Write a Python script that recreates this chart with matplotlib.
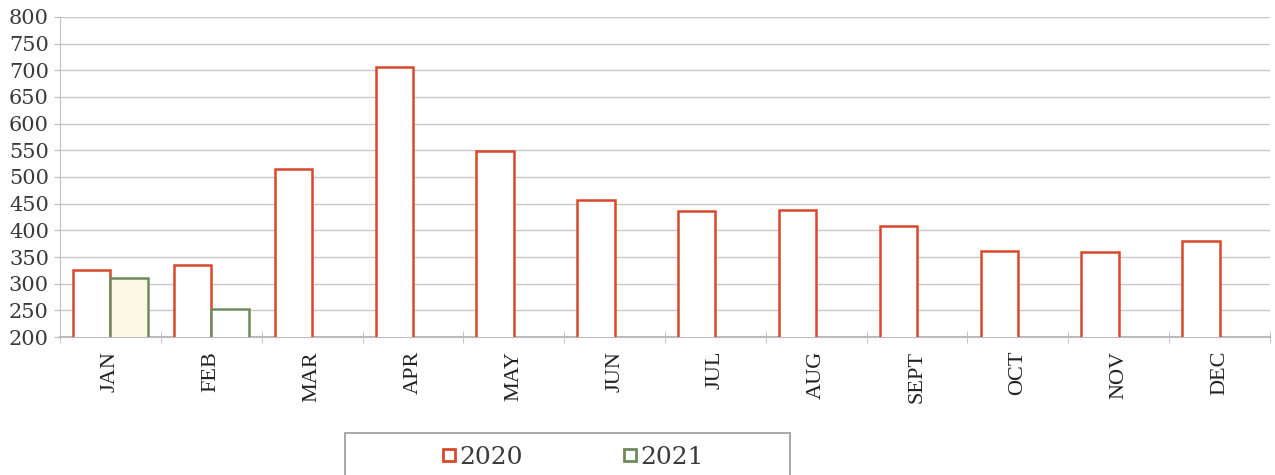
import matplotlib
matplotlib.use("Agg")
import matplotlib.pyplot as plt
from matplotlib.lines import Line2D
from matplotlib.patches import Rectangle
import numpy as np

months = ["JAN", "FEB", "MAR", "APR", "MAY", "JUN", "JUL", "AUG", "SEPT", "OCT", "NOV", "DEC"]
vals_2020 = [325, 335, 515, 707, 549, 457, 436, 438, 408, 361, 359, 380]
vals_2021 = [310, 252]
fill_2021 = ["#fbf7e4", "#ffffff"]
y_ticks = list(range(200, 801, 50))

c2020 = "#d9482b"
c2021 = "#6e8a5c"

fig = plt.figure(figsize=(12.75, 4.75), dpi=100)
ax = fig.add_axes([60/1275, 1-337/475, 1210/1275, 320/475])

x = np.arange(len(months))
w = 0.37
ax.bar(x - w/2, vals_2020, width=w, bottom=0, facecolor="white", edgecolor=c2020, linewidth=1.8, zorder=3)
x21 = np.arange(len(vals_2021))
ax.bar(x21 + w/2, vals_2021, width=w, bottom=0, color=fill_2021, edgecolor=c2021, linewidth=1.8, zorder=3)

ax.set_ylim(200, 800)
ax.set_xlim(-0.5, len(months) - 0.5)
ax.set_yticks(y_ticks)
ax.set_yticklabels([str(v) for v in y_ticks], fontsize=15, family="DejaVu Serif", color="#3a3a3a")
ax.set_xticks(x)
ax.set_xticklabels(months, rotation=90, fontsize=16, family="Liberation Serif", color="#222222")
ax.tick_params(axis="x", length=0, pad=10)
ax.set_xticks(np.arange(-0.5, len(months)), minor=True)
ax.tick_params(axis="x", which="minor", length=8, color="#bbbbbb", direction="inout")
ax.tick_params(axis="y", length=4, color="#bbbbbb", pad=4)
ax.grid(axis="y", color="#c8c8c8", linewidth=1.0, zorder=0)
for s in ["top", "right"]:
    ax.spines[s].set_visible(False)
ax.spines["left"].set_color("#c0c0c0")
ax.spines["bottom"].set_color("#bbbbbb")
ax.spines["bottom"].set_linewidth(1.5)

# legend frame (extends past the bottom of the figure, as in the reference)
fig.patches.append(Rectangle((345/1275, -0.05), 445/1275, 0.05 + 1 - 433/475,
                             transform=fig.transFigure, facecolor="white",
                             edgecolor="#999999", linewidth=1.2, zorder=0))

handles = [
    Line2D([], [], marker="s", linestyle="none", markersize=9, markerfacecolor="white",
           markeredgecolor=c2020, markeredgewidth=2),
    Line2D([], [], marker="s", linestyle="none", markersize=9, markerfacecolor="white",
           markeredgecolor=c2021, markeredgewidth=2),
]
leg = fig.legend(handles, ["2020", "2021"], loc="center", ncol=2,
                 bbox_to_anchor=(570/1275, 1-457/475),
                 frameon=False, prop={"family": "DejaVu Serif", "size": 18},
                 handletextpad=-0.1, handlelength=1.0, columnspacing=3.8)
for t in leg.get_texts():
    t.set_color("#3a3a3a")

fig.savefig("out.png", dpi=100)
